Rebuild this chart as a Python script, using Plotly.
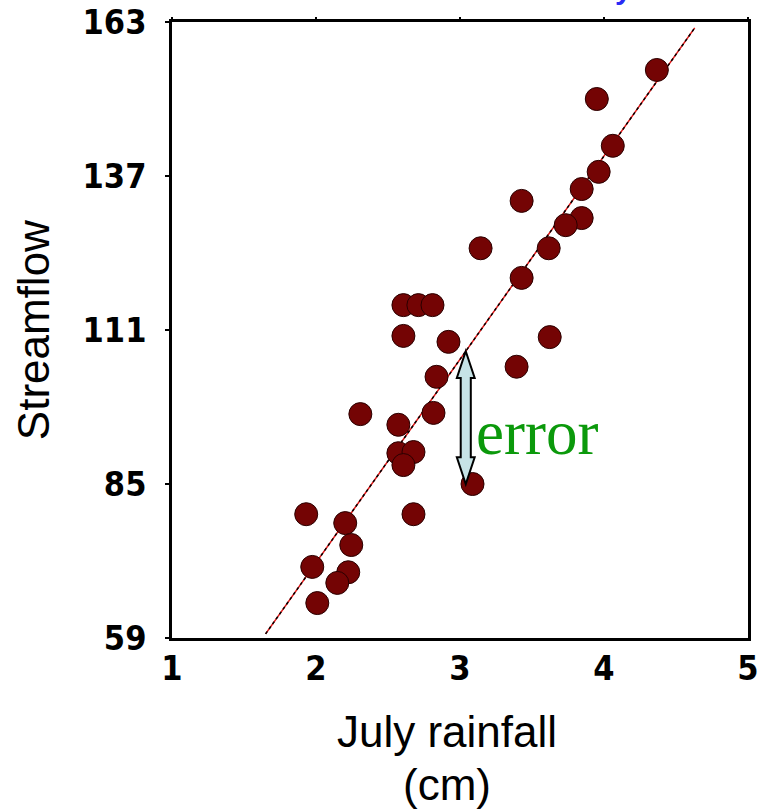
import plotly.graph_objects as go

# July rainfall (cm) and streamflow observations
rainfall = [4.367, 3.950, 4.061, 3.963, 3.845, 3.428, 3.845, 3.734, 3.143, 3.616,
            3.428, 2.607, 2.711, 2.809, 2.607, 2.920, 3.623, 2.837, 3.393, 2.308,
            2.816, 2.572, 2.572, 2.677, 2.607, 3.087, 1.932, 2.677, 2.203, 2.245,
            1.974, 2.224, 2.148, 2.009]
streamflow = [154.9, 150.0, 142.1, 137.7, 134.8, 132.8, 129.9, 128.7, 124.8, 124.8,
              119.8, 115.2, 115.2, 115.2, 110.0, 109.0, 109.8, 103.1, 104.8, 96.8,
              97.0, 95.0, 90.2, 90.4, 88.2, 85.0, 79.9, 79.9, 78.4, 74.7,
              71.0, 70.1, 68.3, 64.9]

# regression line end points
fit_x = [1.65, 4.63]
fit_y = [59.7, 162.0]

x_ticks = [1, 2, 3, 4, 5]
y_ticks = [59, 85, 111, 137, 163]

# residual highlighted with the double arrow
err_x = 3.04
err_obs = streamflow[25]
err_fit = fit_y[0] + (err_x - fit_x[0]) * (fit_y[1] - fit_y[0]) / (fit_x[1] - fit_x[0])

fig = go.Figure()

fig.add_trace(go.Scatter(x=fit_x, y=fit_y, mode="lines",
                         line=dict(color="#e01515", width=1.5), hoverinfo="skip"))
fig.add_trace(go.Scatter(x=fit_x, y=fit_y, mode="lines",
                         line=dict(color="black", width=1.5, dash="dot"), hoverinfo="skip"))
fig.add_trace(go.Scatter(x=rainfall, y=streamflow, mode="markers",
                         marker=dict(size=23, color="#740404",
                                     line=dict(color="#2a0000", width=1))))
# invisible trace to carry the top tick marks
fig.add_trace(go.Scatter(x=[1, 5], y=[59, 59], mode="markers", xaxis="x2",
                         marker=dict(opacity=0), hoverinfo="skip"))

# double-headed arrow polygon in data units
hw, hh, hl = 0.035, 0.062, 4.5
top, bot = err_fit, err_obs
xs = [err_x, err_x + hh, err_x + hw, err_x + hw, err_x + hh, err_x,
      err_x - hh, err_x - hw, err_x - hw, err_x - hh]
ys = [top, top - hl, top - hl, bot + hl, bot + hl, bot,
      bot + hl, bot + hl, top - hl, top - hl]
path = "M " + " L ".join(f"{a},{b}" for a, b in zip(xs, ys)) + " Z"
fig.add_shape(type="path", path=path, xref="x", yref="y",
              fillcolor="#c6e3e6", line=dict(color="black", width=2))

fig.add_annotation(x=3.10, y=93.6, xref="x", yref="y", text="error",
                   showarrow=False, xanchor="left", yanchor="middle",
                   font=dict(family="Liberation Serif", size=63, color="#0b990b"))

title_font = dict(family="Liberation Sans, Arial", size=44, color="black")
fig.add_annotation(x=0.477, y=-0.152, xref="paper", yref="paper", text="July rainfall",
                   showarrow=False, xanchor="center", yanchor="middle", font=title_font)
fig.add_annotation(x=0.477, y=-0.238, xref="paper", yref="paper", text="(cm)",
                   showarrow=False, xanchor="center", yanchor="middle", font=title_font)
fig.add_annotation(x=-0.241, y=0.5, xref="paper", yref="paper", text="Streamflow",
                   showarrow=False, textangle=-90, xanchor="center", yanchor="middle",
                   font=title_font)
fig.add_annotation(x=0.783, y=1, xref="paper", yref="paper", text="y",
                   showarrow=False, xanchor="center", yanchor="bottom", yshift=15,
                   font=dict(family="Liberation Sans, Arial", size=30, color="#2a2af5",
                             weight="bold"))

tick_font = dict(family="DejaVu Sans Condensed, DejaVu Sans", size=34, color="black",
                 weight="bold")

fig.update_layout(
    width=760, height=811,
    margin=dict(l=172, r=12, t=22, b=173),
    paper_bgcolor="white", plot_bgcolor="white",
    showlegend=False,
    xaxis=dict(range=[1, 5], tickvals=x_ticks, ticks="", showgrid=False, zeroline=False,
               showline=True, linecolor="black", linewidth=2.5, mirror=True,
               tickfont=tick_font, ticklabelstandoff=-2, automargin=False),
    xaxis2=dict(range=[1, 5], tickvals=x_ticks, overlaying="x", side="top",
                ticks="outside", ticklen=4, tickwidth=2, tickcolor="black",
                showticklabels=False, showgrid=False, zeroline=False, showline=False,
                automargin=False),
    yaxis=dict(range=[59, 163], tickvals=y_ticks, ticks="outside", ticklen=4, tickwidth=2,
               tickcolor="black", showgrid=False, zeroline=False,
               showline=True, linecolor="black", linewidth=2.5, mirror=True,
               tickfont=tick_font, ticklabelstandoff=12, automargin=False),
)

fig.write_html("out.html")
